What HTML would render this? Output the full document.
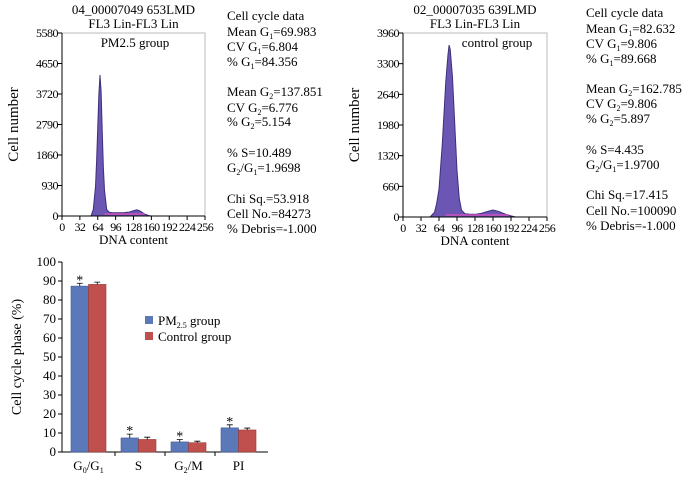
<!DOCTYPE html>
<html><head><meta charset="utf-8"><style>
body{margin:0;background:#fff;width:700px;height:478px;overflow:hidden}
svg, svg text, svg tspan{font-family:"Liberation Serif","Times New Roman",serif !important;}
</style></head><body>
<svg id="fig" width="700" height="478" viewBox="0 0 700 478" font-family="Liberation Serif, serif">
<g id="h1"></g>
<g id="h2"></g>
<g id="bar"></g>
<g font-size="13" fill="#000">
<text x="227" y="20">Cell cycle data</text>
<text x="227" y="36">Mean G<tspan font-size="8" dy="3">1</tspan><tspan dy="-3">=69.983</tspan></text>
<text x="227" y="51">CV G<tspan font-size="8" dy="3">1</tspan><tspan dy="-3">=6.804</tspan></text>
<text x="227" y="66">% G<tspan font-size="8" dy="3">1</tspan><tspan dy="-3">=84.356</tspan></text>
<text x="227" y="96">Mean G<tspan font-size="8" dy="3">2</tspan><tspan dy="-3">=137.851</tspan></text>
<text x="227" y="112">CV G<tspan font-size="8" dy="3">2</tspan><tspan dy="-3">=6.776</tspan></text>
<text x="227" y="126">% G<tspan font-size="8" dy="3">2</tspan><tspan dy="-3">=5.154</tspan></text>
<text x="227" y="157">% S=10.489</text>
<text x="227" y="172">G<tspan font-size="8" dy="3">2</tspan><tspan dy="-3">/G</tspan><tspan font-size="8" dy="3">1</tspan><tspan dy="-3">=1.9698</tspan></text>
<text x="227" y="203">Chi Sq.=53.918</text>
<text x="227" y="218">Cell No.=84273</text>
<text x="227" y="233">% Debris=-1.000</text>
</g>
<g font-size="13" fill="#000">
<text x="586" y="17">Cell cycle data</text>
<text x="586" y="33">Mean G<tspan font-size="8" dy="3">1</tspan><tspan dy="-3">=82.632</tspan></text>
<text x="586" y="48">CV G<tspan font-size="8" dy="3">1</tspan><tspan dy="-3">=9.806</tspan></text>
<text x="586" y="63">% G<tspan font-size="8" dy="3">1</tspan><tspan dy="-3">=89.668</tspan></text>
<text x="586" y="93">Mean G<tspan font-size="8" dy="3">2</tspan><tspan dy="-3">=162.785</tspan></text>
<text x="586" y="108">CV G<tspan font-size="8" dy="3">2</tspan><tspan dy="-3">=9.806</tspan></text>
<text x="586" y="123">% G<tspan font-size="8" dy="3">2</tspan><tspan dy="-3">=5.897</tspan></text>
<text x="586" y="154">% S=4.435</text>
<text x="586" y="169">G<tspan font-size="8" dy="3">2</tspan><tspan dy="-3">/G</tspan><tspan font-size="8" dy="3">1</tspan><tspan dy="-3">=1.9700</tspan></text>
<text x="586" y="199">Chi Sq.=17.415</text>
<text x="586" y="215">Cell No.=100090</text>
<text x="586" y="230">% Debris=-1.000</text>
</g>
</svg>
<script>
// Histogram data (channel, count)
const h1Channels=[48,52,56,60,62,64,66,68,70,72,74,76,80,84,90,100,110,120,128,134,140,148,156,160];
const h1Counts=[0,0,200,900,1700,2700,3700,4300,3800,2600,1500,800,200,120,100,100,100,120,160,190,150,60,10,0];
const h2Channels=[48,56,60,64,70,76,80,82,84,88,92,96,100,104,110,120,130,140,150,160,170,180,190,200];
const h2Counts=[0,100,300,600,1600,2900,3500,3700,3600,3000,2000,1000,400,150,70,60,60,80,120,150,120,70,30,0];
const h1Ticks=[0,930,1860,2790,3720,4650,5580];
const h2Ticks=[0,660,1320,1980,2640,3300,3960];
const xTicks=[0,32,64,96,128,160,192,224,256];
// Bar chart data
const categories=["G0/G1","S","G2/M","PI"];
const pmValues=[87.3,7.4,5.3,12.7];
const ctrlValues=[88.2,6.6,4.9,11.6];
const pmErr=[1.5,2.0,1.2,1.6];
const ctrlErr=[1.2,1.2,0.8,1.0];
const barTicks=[0,10,20,30,40,50,60,70,80,90,100];
const stars=[true,true,true,true];

const NS="http://www.w3.org/2000/svg";
function mk(parent,tag,attrs,txt){const e=document.createElementNS(NS,tag);for(const k in attrs)e.setAttribute(k,attrs[k]);if(txt!==undefined)e.textContent=txt;parent.appendChild(e);return e;}

function hist(g,x0,x1,y0,y1,ymax,ch,cnt,ticks,t1,t2,label,lx){
  const sx=v=>x0+(x1-x0)*v/256, sy=v=>y0-(y0-y1)*v/ymax;
  const frame=mk(g,'path',{d:`M${x0} ${y1}H${x1}V${y0}`,fill:'none',stroke:'#bbb','stroke-width':1});
  
  
  let d=`M${sx(ch[0])} ${y0}`;ch.forEach((c,i)=>d+=`L${sx(c)} ${sy(cnt[i])}`);d+=`L${sx(ch[ch.length-1])} ${y0}Z`;
  const a=mk(g,'path',{d,fill:'#6b57b3',stroke:'#3d2f7a','stroke-width':1});
  
  
  const pk=mk(g,'path',{d:`M${sx(ch[0]+28)} ${y0-2}H${sx(ch[ch.length-1]-12)}`,stroke:'#d050c0','stroke-width':1.5});
  
  
  mk(g,'path',{d:`M${x0} ${y1}V${y0}H${x1}`,fill:'none',stroke:'#000','stroke-width':1});
  ticks.forEach(t=>{const y=sy(t);mk(g,'path',{d:`M${x0-4} ${y}H${x0}`,stroke:'#000'});
    const tx=mk(g,'text',{x:x0-4,y:y+4,'text-anchor':'end','font-size':12,'letter-spacing':-0.5},t);
    
    });
  xTicks.forEach(t=>{const x=sx(t);mk(g,'path',{d:`M${x} ${y0}V${y0+4}`,stroke:'#000'});
    const tx=mk(g,'text',{x:x,y:y0+15,'text-anchor':'middle','font-size':12,'letter-spacing':-0.6},t);
    
    });
  const xt=mk(g,'text',{x:(x0+x1)/2,y:y0+28,'text-anchor':'middle','font-size':13},'DNA content');
  
  
  const yt=mk(g,'text',{x:0,y:0,transform:`translate(${x0-44},${(y0+y1)/2}) rotate(-90)`,'text-anchor':'middle','font-size':15},'Cell number');
  
  
  const a1=mk(g,'text',{x:(x0+x1)/2,y:14,'text-anchor':'middle','font-size':13},t1);
  
  
  const a2=mk(g,'text',{x:(x0+x1)/2,y:28,'text-anchor':'middle','font-size':13},t2);
  
  
  const l=mk(g,'text',{x:lx,y:47,'text-anchor':'middle','font-size':13},label);
  
  
}
hist(document.getElementById('h1'),62,205,216,33,5580,h1Channels,h1Counts,h1Ticks,'04_00007049 653LMD','FL3 Lin-FL3 Lin','PM2.5 group',135);
hist(document.getElementById('h2'),403,547,217,33,3960,h2Channels,h2Counts,h2Ticks,'02_00007035 639LMD','FL3 Lin-FL3 Lin','control group',497);

(function(){
  const g=document.getElementById('bar');
  const X0=62,X1=268,Y0=452,Y1=262;
  const sy=v=>Y0-(Y0-Y1)*v/100;
  const gw=50,bw=17.5,start=71;
  mk(g,'path',{d:`M${X0} ${Y1}V${Y0}H${X1}`,fill:'none',stroke:'#000'});
  barTicks.forEach(t=>{const y=sy(t);mk(g,'path',{d:`M${X0-4} ${y}H${X0}`,stroke:'#000'});
    const tx=mk(g,'text',{x:X0-6,y:y+4,'text-anchor':'end','font-size':13},t);
    
    });
  const yt=mk(g,'text',{x:0,y:0,transform:`translate(21,357) rotate(-90)`,'text-anchor':'middle','font-size':14},'Cell cycle phase (%)');
  
  
  const labels=[['G','0','/G','1'],['S'],['G','2','/M'],['PI']];
  categories.forEach((c,i)=>{
    const bx=start+i*gw;
    [[pmValues[i],pmErr[i],'#5b78b8'],[ctrlValues[i],ctrlErr[i],'#c0504d']].forEach((s,j)=>{
      const x=bx+j*bw, y=sy(s[0]);
      const r=mk(g,'rect',{x:x,y:y,width:bw,height:Y0-y,fill:s[2],stroke:j?'#9a3b38':'#43599a','stroke-width':0.6});
      
      
      const ye=sy(s[0]+s[1]);
      mk(g,'path',{d:`M${x+bw/2} ${y}V${ye}M${x+bw/2-3} ${ye}H${x+bw/2+3}`,stroke:'#000','stroke-width':0.8});
    });
    if(stars[i]){const st=mk(g,'text',{x:bx+bw/2,y:sy(pmValues[i]+pmErr[i])+1,'text-anchor':'middle','font-size':14},'*');
      
      }
    if(i>0) mk(g,'path',{d:`M${bx-6} ${Y0}V${Y0+4}`,stroke:'#000'});
    const t=mk(g,'text',{x:bx+bw,y:Y0+18,'text-anchor':'middle','font-size':13});
    
    
    const p=labels[i];
    p.forEach((s,k)=>{const sub=k%2==1;mk(t,'tspan',sub?{'font-size':8,dy:3}:(k>0?{dy:-3}:{}),s);});
  });
  const lg=mk(g,'g',{});
  
  
  mk(lg,'rect',{x:145,y:316,width:8,height:8,fill:'#5b78b8'});
  const l1=mk(lg,'text',{x:158,y:325,'font-size':13});
  mk(l1,'tspan',{},'PM');mk(l1,'tspan',{'font-size':8,dy:3},'2.5');mk(l1,'tspan',{dy:-3},' group');
  mk(lg,'rect',{x:145,y:332,width:8,height:8,fill:'#c0504d'});
  mk(lg,'text',{x:158,y:341,'font-size':13},'Control group');
})();
</script>
</body></html>
